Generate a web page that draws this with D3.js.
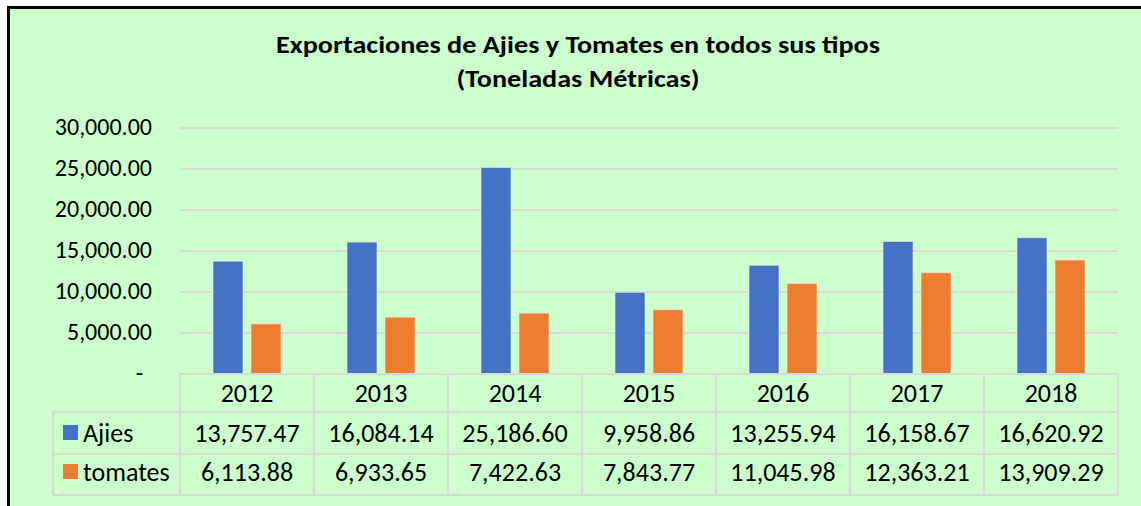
<!DOCTYPE html>
<html><head><meta charset="utf-8">
<script src="https://cdn.jsdelivr.net/npm/d3@7"></script>
<style>body{margin:0;background:#fff}svg{display:block}</style>
</head><body>
<script>
const years = ["2012","2013","2014","2015","2016","2017","2018"];
const ajies = [13757.47,16084.14,25186.60,9958.86,13255.94,16158.67,16620.92];
const tomates = [6113.88,6933.65,7422.63,7843.77,11045.98,12363.21,13909.29];
const seriesNames = ["Ajies","tomates"];
const seriesColors = ["#4472C4","#ED7D31"];
const yTicks = [0,5000,10000,15000,20000,25000,30000];

const W=1141,H=506;
const svg=d3.select("body").append("svg").attr("width",W).attr("height",H);
svg.append("rect").attr("x",0).attr("y",0).attr("width",W).attr("height",H).attr("fill","#fff");
svg.append("rect").attr("x",8.5).attr("y",7.5).attr("width",W).attr("height",H).attr("fill","#CCFFCC").attr("stroke","#000").attr("stroke-width",3);

const font="Carlito, Calibri, 'Liberation Sans', sans-serif";
svg.append("text").attr("x",578).attr("y",53).attr("text-anchor","middle").attr("font-family",font)
  .attr("font-weight","bold").attr("font-size",24.5).attr("textLength",604).attr("lengthAdjust","spacingAndGlyphs")
  .text("Exportaciones de Ajies y Tomates en todos sus tipos");
svg.append("text").attr("x",578).attr("y",87).attr("text-anchor","middle").attr("font-family",font)
  .attr("font-weight","bold").attr("font-size",24.5).attr("textLength",243).attr("lengthAdjust","spacingAndGlyphs")
  .text("(Toneladas Métricas)");

const x0=180,x1=1118;
const x=d3.scaleBand().domain(years).range([x0,x1]);
const y=d3.scaleLinear().domain([0,30000]).range([374,128]);

svg.append("g").selectAll("line").data(yTicks.filter(d=>d>0)).join("line")
  .attr("x1",x0).attr("x2",x1).attr("y1",d=>y(d)).attr("y2",d=>y(d))
  .attr("stroke","#D9D9D9").attr("stroke-width",2);

const fmt=d3.format(",.2f");
svg.append("g").selectAll("text").data(yTicks).join("text")
  .attr("x",d=>d===0?143:152).attr("y",d=>y(d)+7).attr("text-anchor","end")
  .attr("font-family",font).attr("font-size",24).attr("fill","#000")
  .text(d=>d===0?"-":fmt(d));

const bw=30, gap=8;
const data=[ajies,tomates];
data.forEach((vals,si)=>{
  svg.append("g").selectAll("rect").data(vals).join("rect")
    .attr("x",(d,i)=>x(years[i])+x.bandwidth()/2+(si===0?-(bw+gap/2):gap/2))
    .attr("width",bw)
    .attr("y",d=>y(d)).attr("height",d=>y(0)-y(d))
    .attr("fill",seriesColors[si]).attr("stroke","#E8F4E8").attr("stroke-width",1).attr("stroke-opacity",0.6);
});

const rowY=[374,412,454,495];
const baseY=[402,442,481];
const tcol="#D9D9D9";
const tg=svg.append("g");
tg.append("line").attr("x1",x0).attr("x2",x1).attr("y1",rowY[0]).attr("y2",rowY[0]).attr("stroke",tcol).attr("stroke-width",2);
[1,2,3].forEach(r=>tg.append("line").attr("x1",53).attr("x2",x1).attr("y1",rowY[r]).attr("y2",rowY[r]).attr("stroke",tcol).attr("stroke-width",2));
tg.append("line").attr("x1",53).attr("x2",53).attr("y1",rowY[1]).attr("y2",rowY[3]).attr("stroke",tcol).attr("stroke-width",2);
years.forEach(yr=>tg.append("line").attr("x1",x(yr)).attr("x2",x(yr)).attr("y1",rowY[0]).attr("y2",rowY[3]).attr("stroke",tcol).attr("stroke-width",2));
tg.append("line").attr("x1",x1).attr("x2",x1).attr("y1",rowY[0]).attr("y2",rowY[3]).attr("stroke",tcol).attr("stroke-width",2);
tg.selectAll("text.yr").data(years).join("text").attr("class","yr")
  .attr("x",d=>x(d)+x.bandwidth()/2).attr("y",baseY[0]).attr("text-anchor","middle")
  .attr("font-family",font).attr("font-size",26).text(d=>d);
data.forEach((vals,si)=>{
  const by=baseY[si+1];
  tg.append("rect").attr("x",63).attr("y",by-17).attr("width",15).attr("height",15).attr("fill",seriesColors[si]);
  tg.append("text").attr("x",83).attr("y",by).attr("font-family",font).attr("font-size",26).text(seriesNames[si]);
  tg.append("g").selectAll("text").data(vals).join("text")
    .attr("x",(d,i)=>x(years[i])+x.bandwidth()/2).attr("y",by).attr("text-anchor","middle")
    .attr("font-family",font).attr("font-size",26).text(d=>fmt(d));
});
</script>
</body></html>
